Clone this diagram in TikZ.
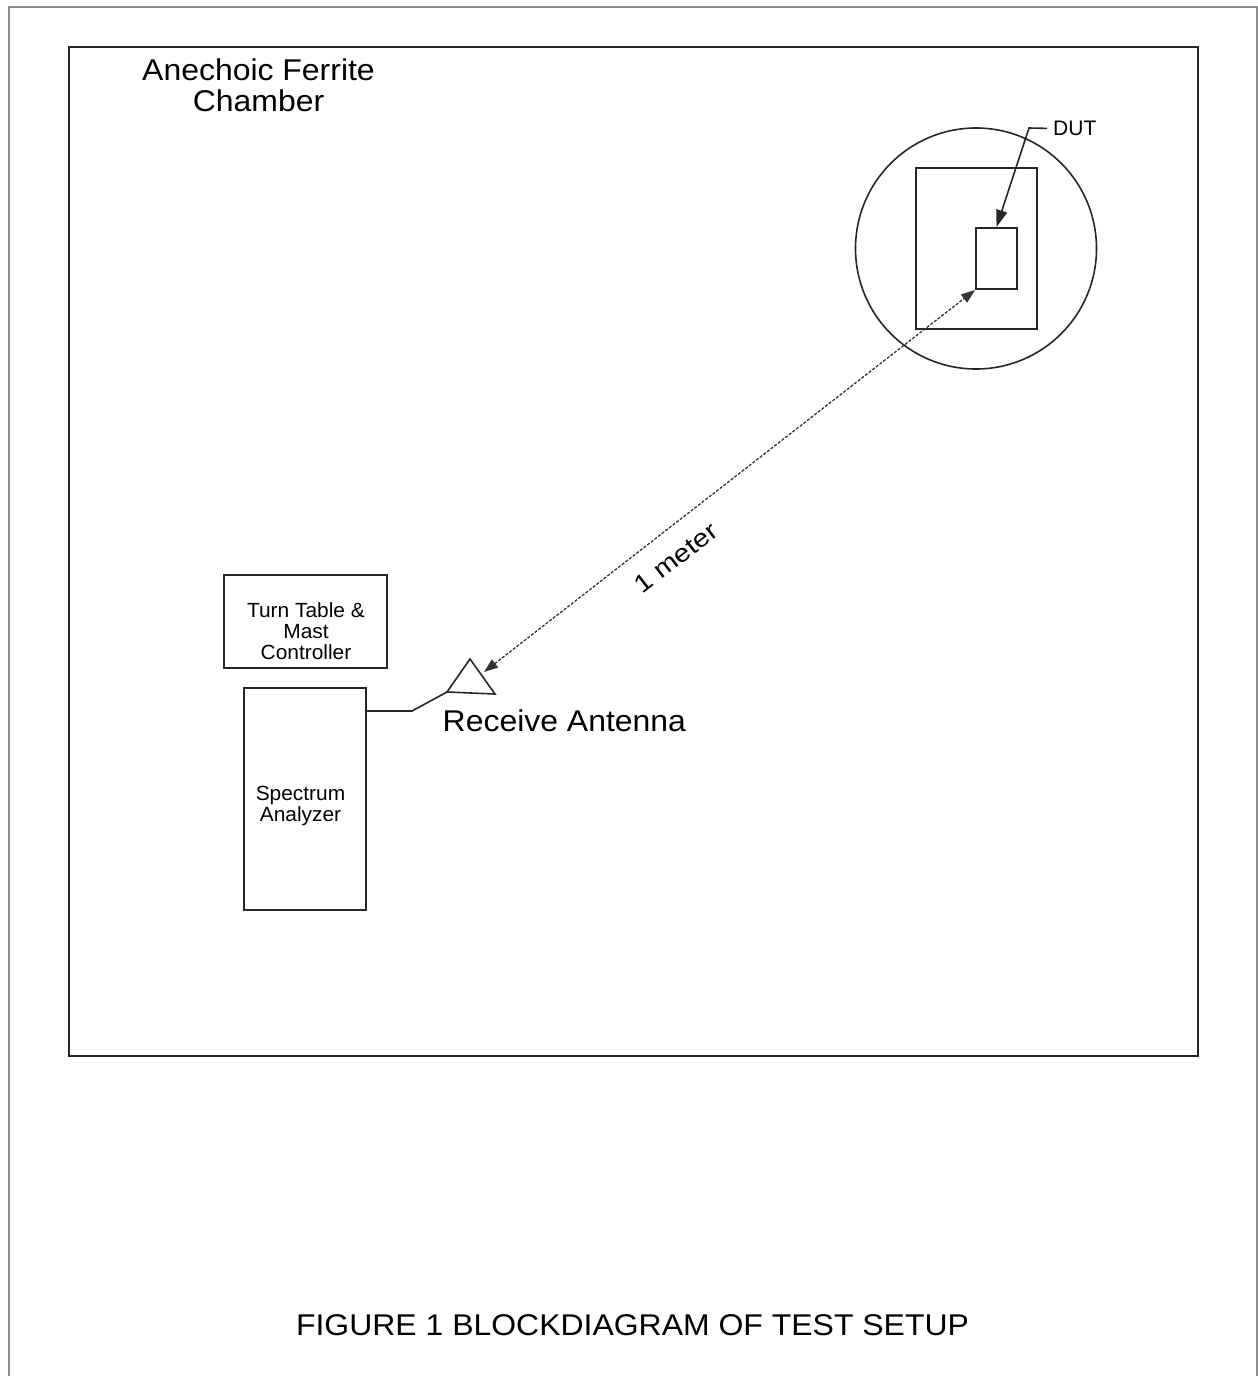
\documentclass[tikz,border=0pt]{standalone}
\usepackage{fontspec}
\setmainfont{Liberation Sans}
\newfontfamily\bigfont[FakeStretch=1.065]{Liberation Sans}
\newfontfamily\midfont[FakeStretch=1.15]{Liberation Sans}
\newfontfamily\smallfont[FakeStretch=1.02]{Liberation Sans}
\newfontfamily\dutfont[FakeStretch=1.0]{Liberation Sans}
\newfontfamily\capfont[FakeStretch=1.065]{Liberation Sans}
\usetikzlibrary{arrows.meta}
\begin{document}
\begin{tikzpicture}[x=1pt,y=-1pt,
  frame/.style={draw=black!45, line width=2.5pt},
  chamber/.style={draw=black!85, line width=2.6pt, minimum width=1129pt, minimum height=1009pt, inner sep=0pt},
  box/.style={draw=black!85, line width=2pt, inner sep=0pt},
  thinline/.style={draw=black!85, line width=1.6pt},
  dashline/.style={draw=black!80, line width=1.3pt, dash pattern=on 3pt off 1.6pt},
  bigtext/.style={font=\bigfont\fontsize{30}{31}\selectfont, inner sep=0pt, align=center},
  midtext/.style={font=\midfont\fontsize{25}{27}\selectfont, inner sep=0pt},
  smalltext/.style={font=\smallfont\fontsize{20.5}{21}\selectfont, inner sep=0pt, align=center},
  duttext/.style={font=\dutfont\fontsize{21}{22}\selectfont, inner xsep=6pt, inner ysep=0pt},
  captext/.style={font=\capfont\fontsize{30}{32}\selectfont, inner sep=0pt}
]
\useasboundingbox (0,0) rectangle (1258,1376);
% outer page frame
\draw[frame] (9,1376) -- (9,7) -- (1257,7) -- (1257,1376);
% chamber
\node[chamber] (chamber) at (633.5,551.5) {};
\node[bigtext] (chamberlabel) at (258.5,85.5) {Anechoic Ferrite\\Chamber};
% turntable with DUT
\node[box, circle, line width=1.6pt, minimum size=241pt] (turntable) at (976,248.5) {};
\node[box, minimum width=121pt, minimum height=161pt] (platform) at (976.5,248.5) {};
\node[box, minimum width=41pt, minimum height=61pt] (dut) at (996.5,258.5) {};
\node[duttext, anchor=base west] (dutlabel) at (1047,135.5) {DUT};
\coordinate (bend) at (1029,128);
\draw[thinline, -{Triangle[length=17pt,width=11pt]}] (dutlabel.west) -- (bend) -- (dut.north);
% antenna
\coordinate (antL) at (447,692);
\coordinate (antT) at (470,659);
\coordinate (antR) at (495,694);
\draw[thinline] (antL) -- (antT) -- (antR) -- cycle;
\coordinate (anttip) at (484,672);
\node[bigtext, anchor=base west] (antlabel) at (442.5,731) {Receive Antenna};
% distance
\draw[dashline, {Triangle[length=14pt,width=10pt]}-{Triangle[length=14pt,width=10pt]}] (anttip) -- (dut.south west);
\node[midtext, rotate=37.8] (dist) at (676,558) {1 meter};
% controller and analyzer
\node[box, minimum width=163pt, minimum height=93pt] (tt) at (305.5,621.5) {};
\node[smalltext] (ttlabel) at (306,631) {Turn Table \&\\Mast\\Controller};
\node[box, minimum width=122pt, minimum height=222pt] (sa) at (305,799) {};
\node[smalltext] (salabel) at (300.5,806) {Spectrum\\Analyzer};
\coordinate (cabbend) at (412,711);
\draw[thinline] (sa.east |- cabbend) -- (cabbend) -- (antL);
% caption
\node[captext, anchor=base] (caption) at (632.5,1335) {FIGURE 1 BLOCKDIAGRAM OF TEST SETUP};
\end{tikzpicture}
\end{document}
